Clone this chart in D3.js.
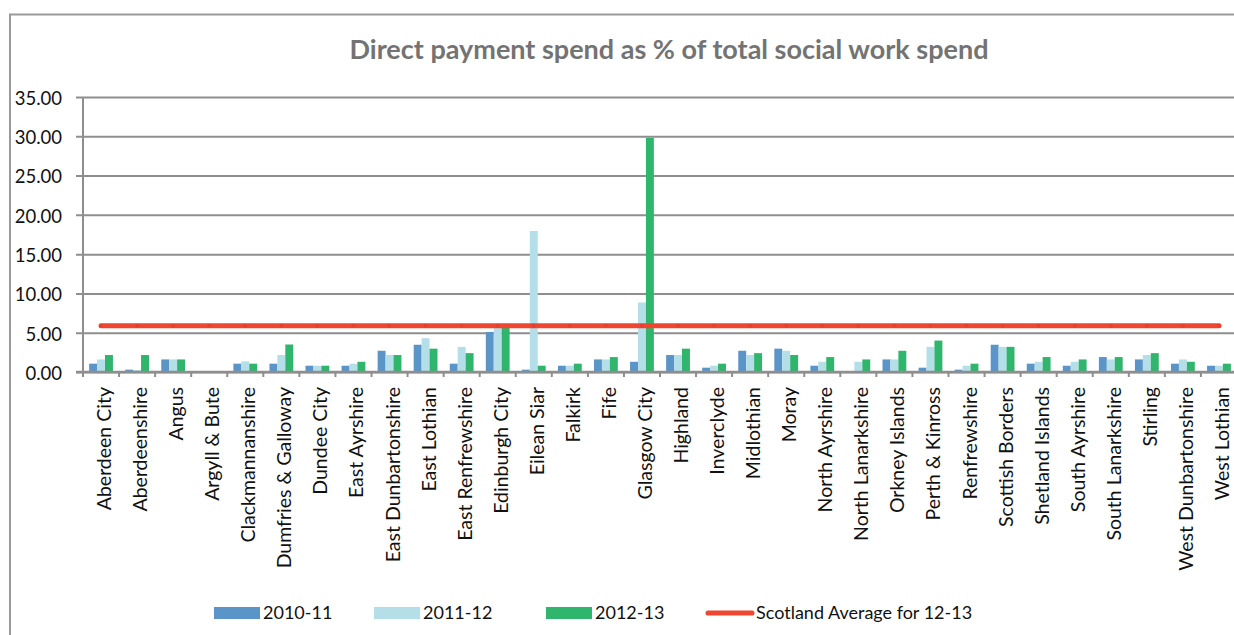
<!DOCTYPE html>
<html>
<head>
<meta charset="utf-8">
<script src="https://cdn.jsdelivr.net/npm/d3@7"></script>
<style>
  html, body { margin: 0; padding: 0; background: #fff; }
  svg { display: block; }
  text { font-family: Lato, "Open Sans", sans-serif; }
</style>
</head>
<body>
<svg id="chart" width="1234" height="635"></svg>
<script>
// Local authority areas along the x axis
const categories = [
  "Aberdeen City", "Aberdeenshire", "Angus", "Argyll & Bute", "Clackmannanshire",
  "Dumfries & Galloway", "Dundee City", "East Ayrshire", "East Dunbartonshire",
  "East Lothian", "East Renfrewshire", "Edinburgh City", "Eilean Siar", "Falkirk",
  "Fife", "Glasgow City", "Highland", "Inverclyde", "Midlothian", "Moray",
  "North Ayrshire", "North Lanarkshire", "Orkney Islands", "Perth & Kinross",
  "Renfrewshire", "Scottish Borders", "Shetland Islands", "South Ayrshire",
  "South Lanarkshire", "Stirling", "West Dunbartonshire", "West Lothian"
];

// Direct payment spend as % of total social work spend, by year
const spend2010_11 = [1.06, 0.30, 1.60, 0.00, 1.06, 1.06, 0.80, 0.80, 2.70, 3.47, 1.06, 5.10, 0.30, 0.80, 1.60, 1.30,
                      2.16, 0.55, 2.70, 2.97, 0.80, 0.00, 1.60, 0.55, 0.30, 3.47, 1.06, 0.80, 1.90, 1.60, 1.06, 0.80];
const spend2011_12 = [1.60, 0.25, 1.60, 0.00, 1.35, 2.16, 0.80, 1.06, 2.16, 4.30, 3.20, 5.60, 17.95, 0.80, 1.60, 8.85,
                      2.16, 0.80, 2.16, 2.70, 1.30, 1.30, 1.60, 3.20, 0.80, 3.20, 1.30, 1.30, 1.60, 2.16, 1.60, 0.80];
const spend2012_13 = [2.16, 2.16, 1.60, 0.00, 1.06, 3.50, 0.80, 1.30, 2.16, 2.97, 2.40, 5.80, 0.80, 1.06, 1.90, 29.80,
                      2.97, 1.06, 2.40, 2.16, 1.90, 1.60, 2.70, 4.00, 1.06, 3.20, 1.90, 1.60, 1.90, 2.40, 1.30, 1.06];

// Scotland-wide average for 2012-13
const scotlandAverage = 5.9;

const seriesNames = ["2010-11", "2011-12", "2012-13"];
const seriesColors = ["#5b95c8", "#b4dfe8", "#30b56c"];
const averageLabel = "Scotland Average for 12-13";
const averageColor = "#ef4631";

const yTicks = [0, 5, 10, 15, 20, 25, 30, 35];
const chartTitle = "Direct payment spend as % of total social work spend";

const seriesValues = [spend2010_11, spend2011_12, spend2012_13];

const svg = d3.select("#chart");
const gridColor = "#8e8e8e";

// Outer chart frame
svg.append("path")
  .attr("d", "M10,640 V14.5 H1240")
  .attr("fill", "none")
  .attr("stroke", "#9a9a9a")
  .attr("stroke-width", 2);

// Title
svg.append("text")
  .attr("x", 669)
  .attr("y", 59)
  .attr("text-anchor", "middle")
  .attr("font-size", 27)
  .attr("font-weight", "bold")
  .attr("fill", "#737373")
  .text(chartTitle);

const plotLeft = 83, plotRight = 1237, plotTop = 97, plotBottom = 372;

const x = d3.scaleBand()
  .domain(categories)
  .range([plotLeft, plotRight])
  .paddingInner(0.34)
  .paddingOuter(0.17);

const xSub = d3.scaleBand()
  .domain(seriesNames)
  .range([0, x.bandwidth()]);

const y = d3.scaleLinear()
  .domain([0, 35])
  .range([plotBottom, plotTop]);

// Horizontal gridlines with y tick labels
const yAxis = d3.axisLeft(y)
  .tickValues(yTicks)
  .tickFormat(d3.format(".2f"))
  .tickSize(-(plotRight - plotLeft + 8))
  .tickPadding(14);

const yG = svg.append("g")
  .attr("transform", `translate(${plotLeft},0)`)
  .call(yAxis);
yG.select(".domain").remove();
yG.selectAll(".tick line")
  .attr("x1", -7)
  .attr("x2", plotRight - plotLeft + 5)
  .attr("stroke", gridColor)
  .attr("stroke-width", 2);
yG.selectAll(".tick text")
  .attr("font-size", 18.5)
  .attr("fill", "#111")
  .attr("x", -21)
  .attr("dy", "0.4em")
  .style("font-family", "Lato, sans-serif");

// Vertical axis line
svg.append("line")
  .attr("x1", plotLeft).attr("x2", plotLeft)
  .attr("y1", plotTop).attr("y2", plotBottom)
  .attr("stroke", gridColor)
  .attr("stroke-width", 2);

// Bars
const groups = svg.append("g")
  .selectAll("g")
  .data(categories)
  .join("g")
  .attr("transform", d => `translate(${x(d)},0)`);

groups.selectAll("rect")
  .data((d, i) => seriesNames.map((s, k) => ({ series: s, k, value: seriesValues[k][i] })))
  .join("rect")
  .attr("x", d => xSub(d.series))
  .attr("width", xSub.bandwidth())
  .attr("y", d => y(d.value))
  .attr("height", d => y(0) - y(d.value))
  .attr("fill", d => seriesColors[d.k]);

// Category axis with ticks between bands
const xG = svg.append("g")
  .attr("transform", `translate(0,${plotBottom})`);
xG.append("line")
  .attr("x1", plotLeft - 7).attr("x2", plotRight + 5)
  .attr("stroke", gridColor)
  .attr("stroke-width", 2.5);
xG.selectAll(".sep")
  .data(categories)
  .join("line")
  .attr("class", "sep")
  .attr("x1", d => x(d) - x.step() * x.paddingInner() / 2)
  .attr("x2", d => x(d) - x.step() * x.paddingInner() / 2)
  .attr("y1", 0).attr("y2", 5)
  .attr("stroke", gridColor)
  .attr("stroke-width", 2);

xG.selectAll(".cat")
  .data(categories)
  .join("text")
  .attr("class", "cat")
  .attr("transform", d => `translate(${x(d) + x.bandwidth() / 2 + 10},15) rotate(-90)`)
  .attr("text-anchor", "end")
  .attr("font-size", 19.5)
  .attr("fill", "#111")
  .text(d => d);

// Scotland average line across all categories
const avgPoints = categories.map(c => [x(c) + x.bandwidth() / 2, y(scotlandAverage)]);
svg.append("path")
  .datum(avgPoints)
  .attr("d", d3.line())
  .attr("fill", "none")
  .attr("stroke", averageColor)
  .attr("stroke-width", 5)
  .attr("stroke-linecap", "round");
svg.append("g")
  .selectAll("circle")
  .data(avgPoints)
  .join("circle")
  .attr("cx", d => d[0])
  .attr("cy", d => d[1])
  .attr("r", 2)
  .attr("fill", "#e4402c");

// Legend
const legend = svg.append("g").attr("transform", "translate(0,613)");
const swatchX = [214, 374, 546];
seriesNames.forEach((s, k) => {
  legend.append("rect")
    .attr("x", swatchX[k]).attr("y", -6)
    .attr("width", 46).attr("height", 12)
    .attr("fill", seriesColors[k]);
  legend.append("text")
    .attr("x", swatchX[k] + 49).attr("y", 0)
    .attr("dy", "0.36em")
    .attr("font-size", 18)
    .attr("fill", "#111")
    .text(s);
});
legend.append("line")
  .attr("x1", 708).attr("x2", 752)
  .attr("y1", 0).attr("y2", 0)
  .attr("stroke", averageColor)
  .attr("stroke-width", 5)
  .attr("stroke-linecap", "round");
legend.append("text")
  .attr("x", 756).attr("y", 0)
  .attr("dy", "0.36em")
  .attr("font-size", 18)
  .attr("fill", "#111")
  .text(averageLabel);
</script>
</body>
</html>
